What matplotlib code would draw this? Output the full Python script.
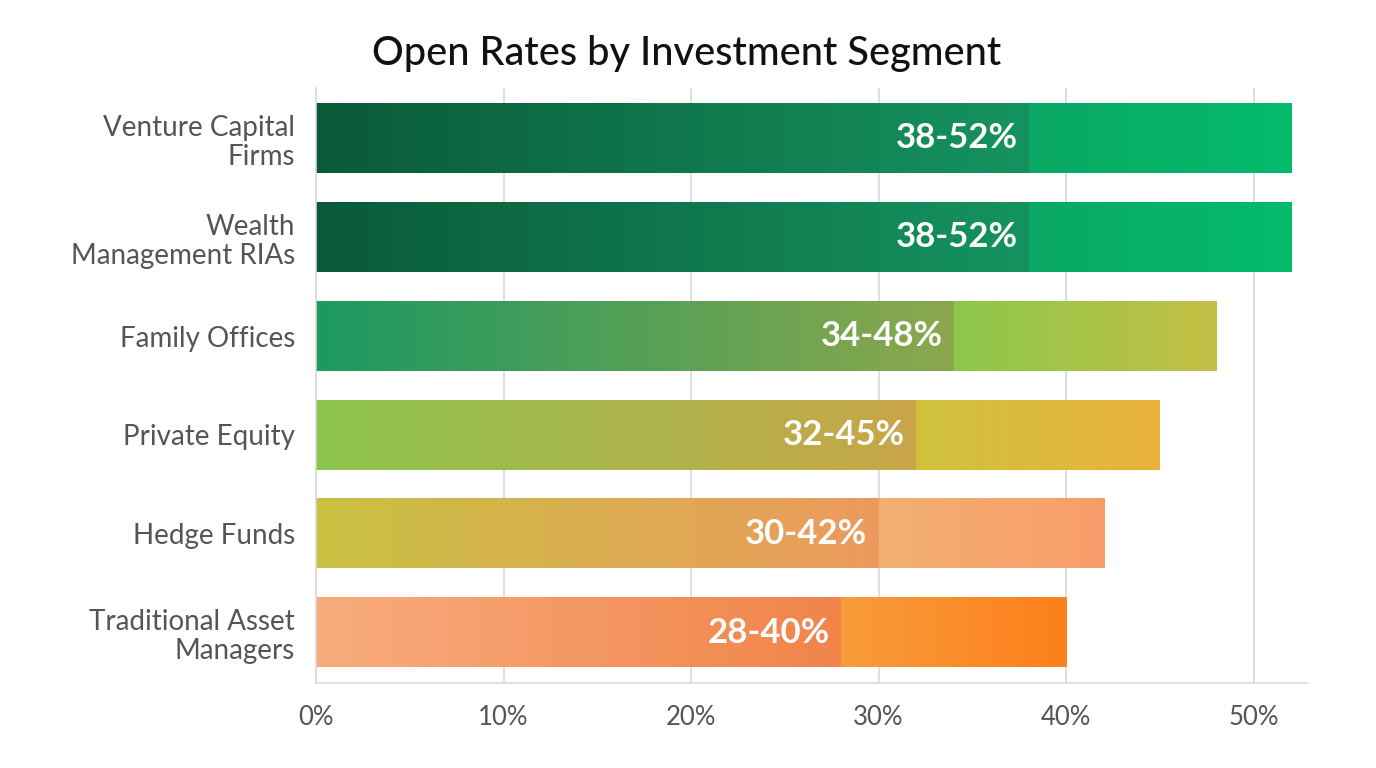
import numpy as np
import matplotlib
matplotlib.use("Agg")
import matplotlib.pyplot as plt
from matplotlib.colors import LinearSegmentedColormap

plt.rcParams["font.family"] = ["Lato", "DejaVu Sans"]

segments = [
    "Venture Capital\nFirms",
    "Wealth\nManagement RIAs",
    "Family Offices",
    "Private Equity",
    "Hedge Funds",
    "Traditional Asset\nManagers",
]
low_rate = [38, 38, 34, 32, 30, 28]
high_rate = [52, 52, 48, 45, 42, 40]
range_labels = ["38-52%", "38-52%", "34-48%", "32-45%", "30-42%", "28-40%"]
x_ticks = [0, 10, 20, 30, 40, 50]

# (low start, low end, high start, high end)
bar_colors = [
    ("#0a5a3a", "#15935f", "#0aa864", "#04bb6c"),
    ("#0a5a3a", "#15935f", "#0aa864", "#04bb6c"),
    ("#1c9862", "#8ca84c", "#8cc84b", "#c4c044"),
    ("#8bc44c", "#c9a549", "#cfc23c", "#e9b23a"),
    ("#c9c142", "#ec9a5e", "#f2b072", "#f99d6a"),
    ("#f8ac7e", "#f1844a", "#f99c3c", "#fc7f1a"),
]

fig = plt.figure(figsize=(13.76, 7.68), dpi=100)
ax = fig.add_axes([0.2297, 0.1107, 0.7209, 0.7747])

bar_h = 0.7
grad = np.linspace(0, 1, 256).reshape(1, -1)
n = len(segments)
for i in range(n):
    y = n - 1 - i
    c0, c1, c2, c3 = bar_colors[i]
    cm_low = LinearSegmentedColormap.from_list("lo", [c0, c1])
    cm_high = LinearSegmentedColormap.from_list("hi", [c2, c3])
    ax.imshow(grad, cmap=cm_low, aspect="auto", interpolation="bilinear",
              extent=(0, low_rate[i], y - bar_h / 2, y + bar_h / 2), zorder=2)
    ax.imshow(grad, cmap=cm_high, aspect="auto", interpolation="bilinear",
              extent=(low_rate[i], high_rate[i], y - bar_h / 2, y + bar_h / 2), zorder=2)
    ax.annotate(range_labels[i], xy=(low_rate[i], y), xytext=(-8, 0),
                textcoords="offset points", ha="right", va="center",
                color="white", fontsize=25, fontweight="bold", zorder=3)

ax.set_xlim(0, 52.9)
ax.set_ylim(-0.51, n - 0.49)
ax.set_yticks(range(n))
ax.set_yticklabels(segments[::-1], fontsize=20, color="#555555", linespacing=1.15)
ax.set_xticks(x_ticks)
ax.set_xticklabels([f"{t}%" for t in x_ticks], fontsize=18.5, color="#555555")
ax.tick_params(axis="both", length=0)
ax.tick_params(axis="x", pad=16)
ax.tick_params(axis="y", pad=15)

ax.grid(axis="x", color="#d9d9d9", linewidth=1.2, zorder=0)
ax.set_axisbelow(True)
for s in ["top", "right"]:
    ax.spines[s].set_visible(False)
ax.spines["left"].set_color("#d9d9d9")
ax.spines["bottom"].set_color("#d9d9d9")
ax.spines["left"].set_linewidth(1.2)
ax.spines["bottom"].set_linewidth(1.2)

fig.text(0.499, 0.93, "Open Rates by Investment Segment", ha="center", va="center",
         fontsize=28.5, color="#111111", fontweight="medium")

fig.savefig("out.png", dpi=100)
